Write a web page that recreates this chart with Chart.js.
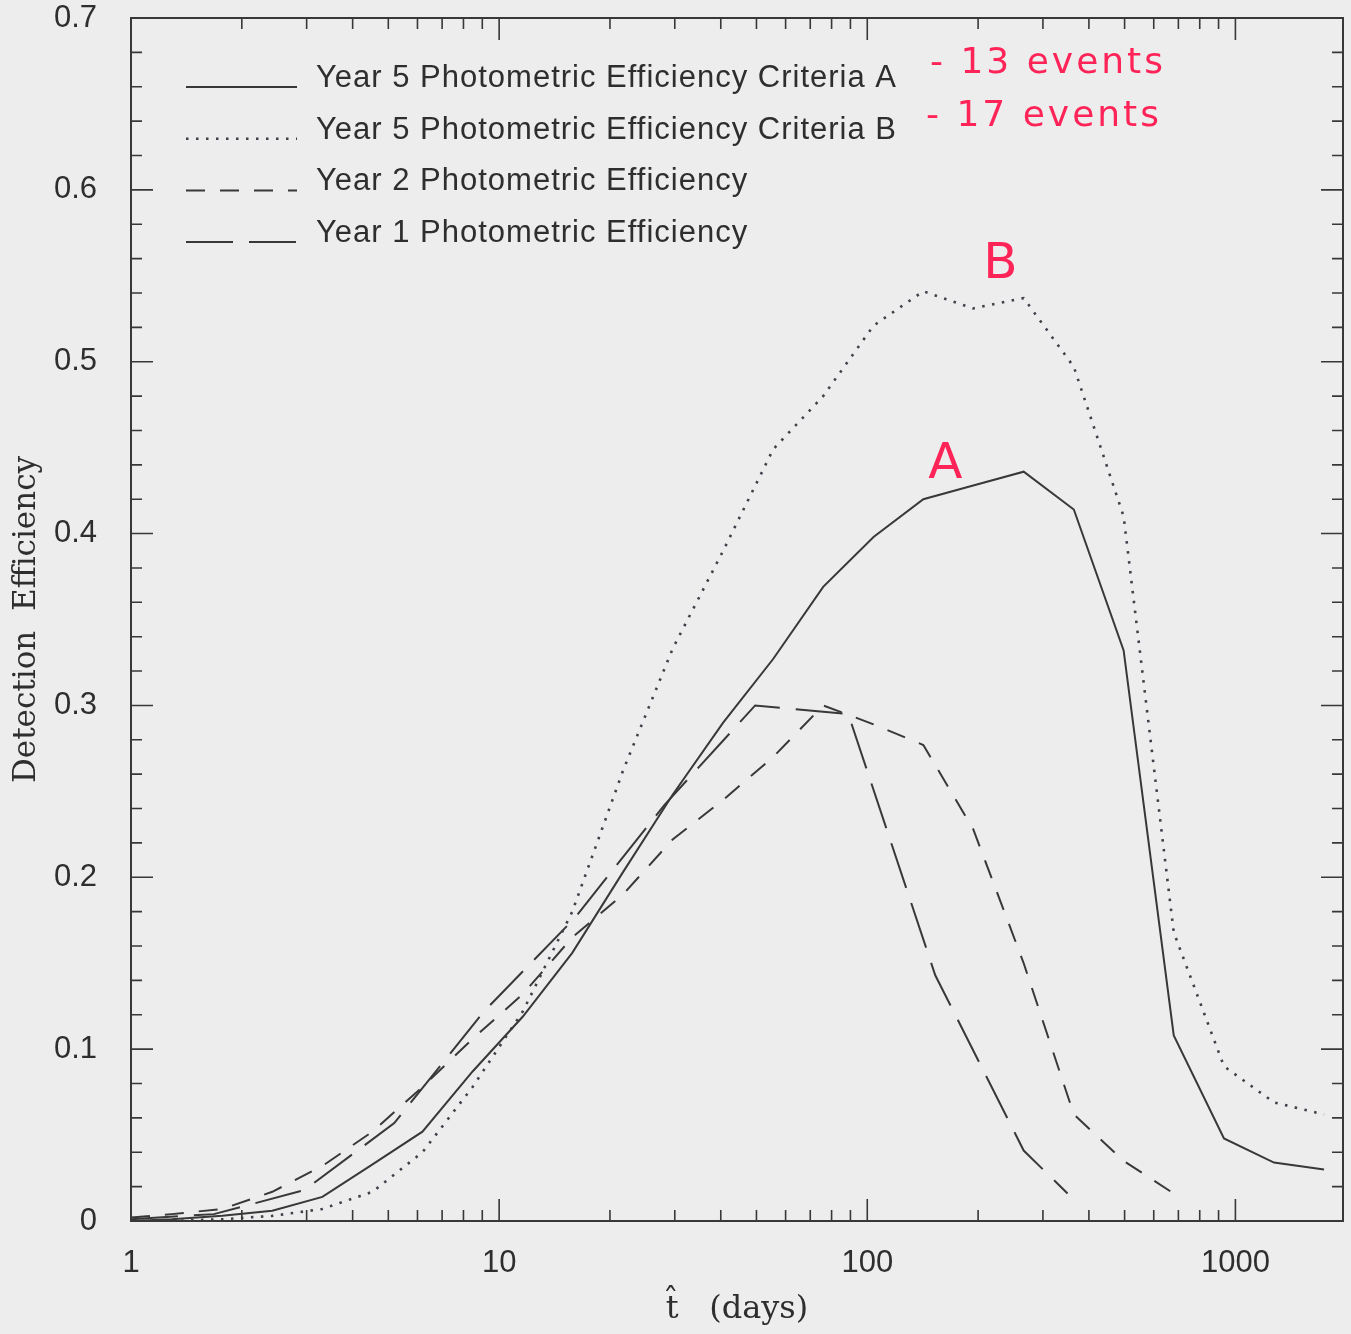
<!DOCTYPE html>
<html><head><meta charset="utf-8">
<script src="https://cdn.jsdelivr.net/npm/chart.js@4/dist/chart.umd.min.js"></script>
<style>html,body{margin:0;padding:0;background:#ededed;}canvas{display:block;}</style>
</head><body>
<canvas id="c" width="1351" height="1334"></canvas>
<script>
// ---- data ----
const xYear5 = [1, 1.29, 1.77, 2.42, 3.31, 4.53, 6.19, 8.47, 11.6, 15.8, 21.7, 29.6, 40.6, 55.5, 75.9, 104, 142, 194, 266, 364, 497, 680, 931, 1273, 1741];
const yYear5A = [0.000, 0.001, 0.003, 0.006, 0.014, 0.033, 0.052, 0.087, 0.119, 0.156, 0.203, 0.248, 0.290, 0.327, 0.369, 0.398, 0.420, 0.428, 0.436, 0.414, 0.332, 0.108, 0.048, 0.034, 0.030];
const yYear5B = [0.000, 0.000, 0.001, 0.003, 0.007, 0.017, 0.040, 0.078, 0.122, 0.180, 0.262, 0.333, 0.390, 0.449, 0.480, 0.521, 0.541, 0.531, 0.537, 0.497, 0.410, 0.168, 0.090, 0.069, 0.062];
const xYear2 = [1, 1.29, 1.77, 2.42, 3.31, 4.53, 6.19, 8.47, 11.6, 15.8, 21.7, 29.6, 40.6, 55.5, 75.9, 104, 142, 194, 266, 364, 497, 680];
const yYear2 = [0.002, 0.004, 0.007, 0.017, 0.032, 0.052, 0.078, 0.106, 0.132, 0.165, 0.190, 0.222, 0.245, 0.270, 0.300, 0.289, 0.277, 0.228, 0.150, 0.062, 0.035, 0.016];
const xYear1 = [1, 1.68, 2.96, 5.19, 9.1, 16.0, 28.1, 49.6, 88.8, 153, 266, 350];
const yYear1 = [0.001, 0.004, 0.018, 0.057, 0.122, 0.176, 0.242, 0.300, 0.295, 0.143, 0.041, 0.016];

const seriesLabels = [
  'Year 5 Photometric Efficiency Criteria A',
  'Year 5 Photometric Efficiency Criteria B',
  'Year 2 Photometric Efficiency',
  'Year 1 Photometric Efficiency'
];
const xMajorTicks = [1, 10, 100, 1000];
const yTickLabels = ['0', '0.1', '0.2', '0.3', '0.4', '0.5', '0.6', '0.7'];
const eventNotes = ['- 13 events', '- 17 events'];
const curveMarks = [{text: 'A', x: 163, y: 0.440}, {text: 'B', x: 230, y: 0.556}];

// ---- helpers ----
const pts = (xs, ys) => xs.map((x, i) => ({x: x, y: ys[i]}));
const INK = '#383838';
const RED = '#ff2458';

const xTickValues = [];
for (const d of xMajorTicks) for (let m = 1; m <= 9; m++) xTickValues.push(m * d);

const framePlugin = {
  id: 'frame',
  afterDraw(chart) {
    const {ctx, chartArea: a, scales: {x, y}} = chart;
    ctx.save();
    ctx.strokeStyle = INK;
    ctx.lineWidth = 2;
    ctx.strokeRect(a.left, a.top, a.right - a.left, a.bottom - a.top);
    ctx.lineWidth = 1.6;
    ctx.beginPath();
    for (const t of x.ticks) {
      const px = x.getPixelForValue(t.value);
      if (px < a.left + 1 || px > a.right - 1) continue;
      const len = xMajorTicks.includes(t.value) ? 22 : 11;
      ctx.moveTo(px, a.bottom); ctx.lineTo(px, a.bottom - len);
      ctx.moveTo(px, a.top); ctx.lineTo(px, a.top + len);
    }
    for (const t of y.ticks) {
      const py = y.getPixelForValue(t.value);
      if (py < a.top + 1 || py > a.bottom - 1) continue;
      const major = Math.round(t.value * 100) % 10 === 0;
      const len = major ? 22 : 11;
      ctx.moveTo(a.left, py); ctx.lineTo(a.left + len, py);
      ctx.moveTo(a.right, py); ctx.lineTo(a.right - len, py);
    }
    ctx.stroke();

    // legend inside plot
    ctx.font = '31px "Liberation Sans", Arial, sans-serif';
    ctx.letterSpacing = '1px';
    ctx.fillStyle = '#2e2e2e';
    ctx.textBaseline = 'alphabetic';
    ctx.textAlign = 'left';
    chart.data.datasets.forEach((ds, i) => {
      const yy = 87 + 51.7 * i;
      ctx.save();
      ctx.strokeStyle = ds.borderColor;
      ctx.lineWidth = ds.borderWidth;
      ctx.setLineDash(ds.borderDash || []);
      ctx.beginPath(); ctx.moveTo(186, yy); ctx.lineTo(297, yy); ctx.stroke();
      ctx.restore();
      ctx.fillText(ds.label, 316, yy);
    });

    // handwritten-style notes
    ctx.fillStyle = RED;
    ctx.font = '36px "DejaVu Sans", sans-serif';
    ctx.letterSpacing = '3px';
    ctx.textBaseline = 'middle';
    ctx.fillText(eventNotes[0], 930, 64);
    ctx.fillText(eventNotes[1], 926, 117);
    ctx.font = '50px "DejaVu Sans", sans-serif';
    ctx.letterSpacing = '0px';
    ctx.textAlign = 'center';
    for (const m of curveMarks) {
      ctx.fillText(m.text, x.getPixelForValue(m.x), y.getPixelForValue(m.y));
    }
    ctx.restore();
  }
};

new Chart(document.getElementById('c'), {
  type: 'line',
  data: {
    datasets: [
      {label: seriesLabels[0], data: pts(xYear5, yYear5A), borderColor: INK, borderWidth: 2, borderDash: []},
      {label: seriesLabels[1], data: pts(xYear5, yYear5B), borderColor: '#40404a', borderWidth: 2.6, borderDash: [2.5, 7.5]},
      {label: seriesLabels[2], data: pts(xYear2, yYear2), borderColor: INK, borderWidth: 2, borderDash: [19, 15]},
      {label: seriesLabels[3], data: pts(xYear1, yYear1), borderColor: INK, borderWidth: 2, borderDash: [47, 16]}
    ].map(d => Object.assign(d, {pointRadius: 0, tension: 0, fill: false}))
  },
  options: {
    responsive: false,
    animation: false,
    layout: {padding: {top: 18, right: 8, left: 0, bottom: 0}},
    plugins: {legend: {display: false}, tooltip: {enabled: false}},
    scales: {
      x: {
        type: 'logarithmic', min: 1, max: 1960,
        grid: {display: false}, border: {display: false},
        afterBuildTicks: s => { s.ticks = xTickValues.filter(v => v <= 1960).map(v => ({value: v})); },
        afterFit: s => { s.height = 113; s.paddingLeft = 0; s.paddingRight = 0; },
        ticks: {
          autoSkip: false, maxRotation: 0, padding: 16, color: '#2e2e2e',
          font: {family: '"Liberation Sans", Arial, sans-serif', size: 31},
          callback: v => xMajorTicks.includes(v) ? String(v) : ''
        },
        title: {display: true, text: 't\u0302   (days)', color: '#2e2e2e',
          font: {family: '"DejaVu Serif", serif', size: 32}, padding: {top: 0, bottom: 5}}
      },
      y: {
        min: 0, max: 0.7,
        grid: {display: false}, border: {display: false},
        afterFit: s => { s.width = 131; s.paddingTop = 0; s.paddingBottom = 0; },
        ticks: {
          stepSize: 0.02, autoSkip: false, padding: 26, color: '#2e2e2e',
          font: {family: '"Liberation Sans", Arial, sans-serif', size: 31},
          callback: v => { const r = Math.round(v * 100); return r % 10 === 0 ? yTickLabels[r / 10] : ''; }
        },
        title: {display: true, text: 'Detection  Efficiency', color: '#2e2e2e',
          font: {family: '"DejaVu Serif", serif', size: 31}, padding: {top: 8}}
      }
    }
  },
  plugins: [framePlugin]
});
</script>
</body></html>
